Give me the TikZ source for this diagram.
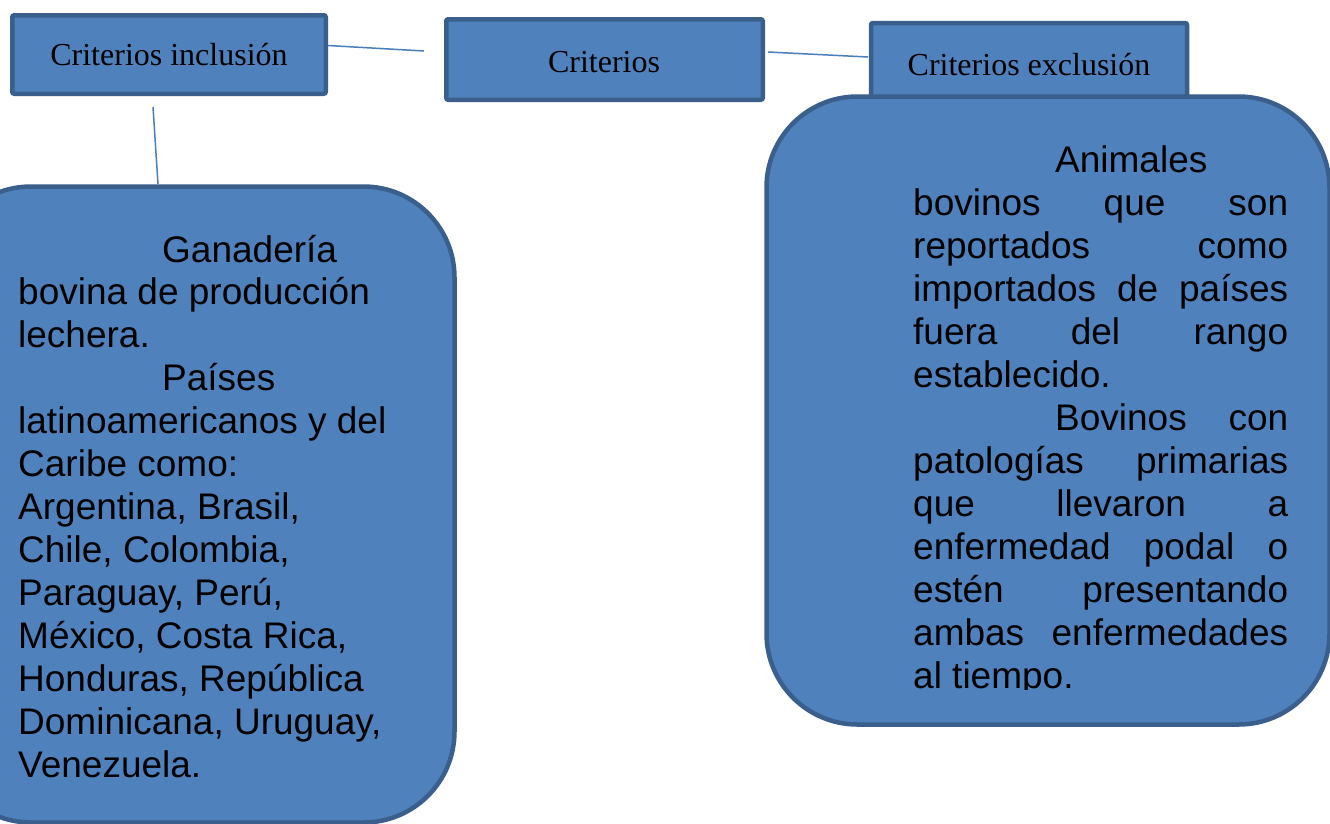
\documentclass[tikz,border=0pt]{standalone}
\usepackage{fontspec}
\setmainfont{Liberation Serif}
\newfontfamily\arialf{Liberation Sans}
\definecolor{boxfill}{HTML}{4F81BD}
\definecolor{boxline}{HTML}{3A5F8D}
\definecolor{conn}{HTML}{4A7EBB}
\tikzset{
  topbox/.style={draw=boxline, fill=boxfill, line width=4.5pt, rounded corners=2pt, inner sep=0pt, rectangle},
  bigbox/.style={draw=boxline, fill=boxfill, line width=4.5pt, rounded corners=91pt, inner sep=0pt, rectangle},
  toplabel/.style={anchor=base, inner sep=0pt, font=\fontsize{32}{38}\selectfont},
  bodytext/.style={anchor=base west, inner sep=0pt, font=\arialf\fontsize{37}{42.95}\selectfont},
  connector/.style={draw=conn, line width=1.5pt}
}
\begin{document}
\begin{tikzpicture}[x=1pt,y=-1pt]
\clip (0,0) rectangle (1330,823);
\fill[white] (0,0) rectangle (1330,823);
% top boxes
\node[topbox, minimum width=313.5pt, minimum height=78.5pt] (inc) at (169,54.5) {};
\node[topbox, minimum width=316.5pt, minimum height=80.5pt] (crit) at (604.5,59.5) {};
\node[topbox, minimum width=316pt, minimum height=77pt] (exc) at (1029,61.5) {};
% big rounded boxes
\node[bigbox, minimum width=563pt, minimum height=628pt] (excbody) at (1048,410.5) {};
\node[bigbox, minimum width=514.5pt, minimum height=636pt] (incbody) at (197.25,504.5) {};
% labels
\node[toplabel] (incl) at (169,65) {Criterios inclusión};
\node[toplabel] (critl) at (604,72) {Criterios};
\node[toplabel] (excl) at (1029,75) {Criterios exclusión};
% connectors
\coordinate (c1) at (328,45.5);
\coordinate (c2) at (424,51);
\coordinate (c3) at (768,52);
\coordinate (c4) at (868,57);
\coordinate (c5) at (153,107);
\coordinate (c6) at (158,184);
\draw[connector] (c1) -- (c2);
\draw[connector] (c3) -- (c4);
\draw[connector] (c5) -- (c6);
% left text
\node[bodytext] (inctext) at (18,262) {\parbox[t]{435pt}{\fontsize{37}{42.95}\selectfont
\hspace*{144pt}Ganadería\\
bovina de producción\\
lechera.\\
\hspace*{144pt}Países\\
latinoamericanos y del\\
Caribe como:\\
Argentina, Brasil,\\
Chile, Colombia,\\
Paraguay, Perú,\\
México, Costa Rica,\\
Honduras, República\\
Dominicana, Uruguay,\\
Venezuela.}};
% right text
\begin{scope}
\clip (760,90) rectangle (1330,689.5);
\node[bodytext] (exctext) at (913,172) {\parbox[t]{375pt}{\fontsize{37}{43}\selectfont
\hspace*{142pt}Animales\\
\makebox[375pt][s]{bovinos que son}\\
\makebox[375pt][s]{reportados como}\\
\makebox[375pt][s]{importados de países}\\
\makebox[375pt][s]{fuera del rango}\\
establecido.\\
\hspace*{142pt}\makebox[233pt][s]{Bovinos con}\\
\makebox[375pt][s]{patologías primarias}\\
\makebox[375pt][s]{que llevaron a}\\
\makebox[375pt][s]{enfermedad podal o}\\
\makebox[375pt][s]{estén presentando}\\
\makebox[375pt][s]{ambas enfermedades}\\
al tiempo.}};
\end{scope}
\end{tikzpicture}
\end{document}
